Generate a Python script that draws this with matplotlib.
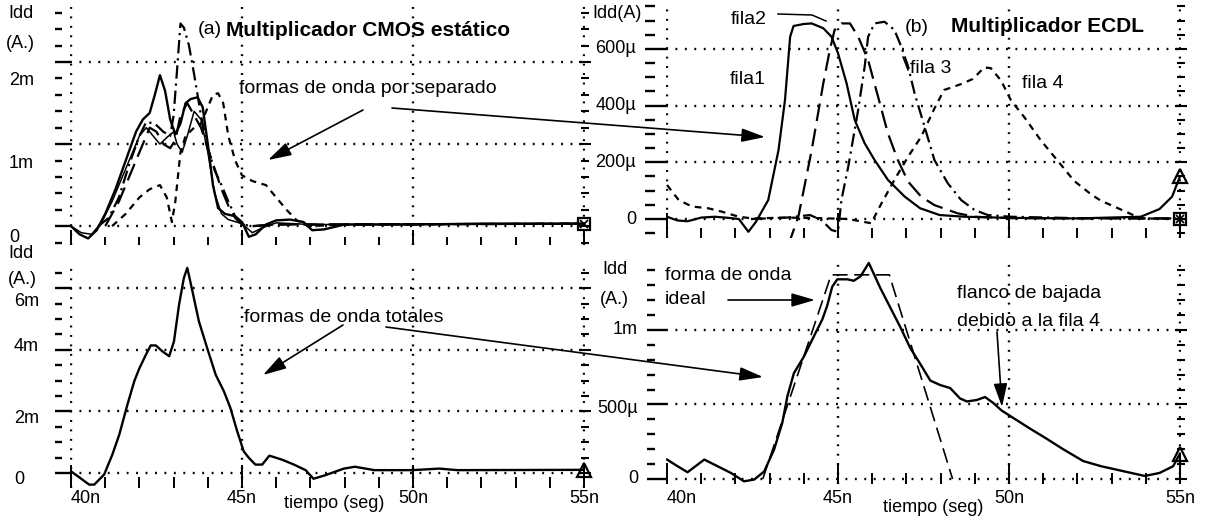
import matplotlib.pyplot as plt
from matplotlib.ticker import MultipleLocator, FixedLocator
from matplotlib.patches import FancyArrowPatch
from matplotlib.lines import Line2D

W, H = 1210, 523
plt.rcParams['font.family'] = ['Liberation Sans', 'DejaVu Sans']

# ---- (a) CMOS, separate waveforms (mA vs ns)
a_s1_t = [40.0, 40.25, 40.5, 40.75, 41.0, 41.3, 41.6, 41.9, 42.1, 42.3, 42.45, 42.6, 42.75, 42.9, 43.05,
          43.2, 43.35, 43.5, 43.7, 43.85, 44.0, 44.15, 44.3, 44.5, 44.8, 45.0, 45.2, 45.4, 45.7, 46.0,
          46.4, 46.8, 47.05, 47.4, 48.0, 49.0, 50.0, 52.0, 55.0]
a_s1_v = [0.0, -0.1, -0.15, -0.05, 0.15, 0.45, 0.8, 1.15, 1.3, 1.38, 1.6, 1.84, 1.65, 1.3, 1.12,
          1.25, 1.5, 1.55, 1.57, 1.45, 1.0, 0.5, 0.22, 0.15, 0.12, 0.05, -0.13, -0.1, 0.02, 0.07,
          0.08, 0.05, -0.05, -0.04, 0.02, 0.02, 0.02, 0.03, 0.03]
a_s2_t = [40.0, 40.3, 40.6, 40.9, 41.2, 41.5, 41.8, 42.0, 42.2, 42.4, 42.6, 42.8, 43.0, 43.1, 43.25,
          43.4, 43.6, 43.8, 44.0, 44.2, 44.4, 44.6, 45.0, 45.3, 45.6, 46.0, 47.0, 48.0, 55.0]
a_s2_v = [0.0, -0.08, -0.1, 0.05, 0.3, 0.6, 0.9, 1.1, 1.2, 1.1, 1.0, 1.08, 1.15, 1.0, 0.9,
          1.1, 1.4, 1.3, 0.9, 0.4, 0.15, 0.08, 0.03, -0.08, -0.02, 0.04, 0.02, 0.02, 0.03]
a_dd_t = [40.8, 41.1, 41.4, 41.7, 42.0, 42.2, 42.45, 42.7, 42.9, 43.0, 43.1, 43.2, 43.3, 43.45, 43.6,
          43.8, 44.0, 44.2, 44.4, 44.6, 44.8, 45.0, 45.3, 46.0, 48.0, 55.0]
a_dd_v = [0.0, 0.1, 0.35, 0.75, 1.1, 1.27, 1.25, 1.15, 1.1, 1.35, 1.9, 2.47, 2.42, 2.2, 1.85,
          1.35, 0.95, 0.68, 0.5, 0.3, 0.12, 0.02, 0.0, 0.02, 0.02, 0.03]
a_ld_t = [41.0, 41.4, 41.8, 42.1, 42.3, 42.5, 42.7, 42.9, 43.05, 43.2, 43.4, 43.6, 43.8, 44.0, 44.2,
          44.4, 44.6, 44.8, 45.0, 45.3, 46.0, 48.0, 55.0]
a_ld_v = [0.0, 0.3, 0.7, 1.0, 1.2, 1.15, 1.0, 0.95, 1.05, 1.35, 1.5, 1.35, 1.2, 0.95, 0.7,
          0.45, 0.25, 0.1, 0.02, 0.0, 0.02, 0.02, 0.03]
a_sd_t = [41.2, 41.6, 42.0, 42.3, 42.6, 42.8, 42.95, 43.05, 43.2, 43.35, 43.6, 43.8, 44.0, 44.15, 44.3,
          44.45, 44.6, 44.8, 45.0, 45.3, 45.7, 46.0, 46.3, 46.6, 47.0, 48.0, 55.0]
a_sd_v = [0.0, 0.15, 0.35, 0.45, 0.5, 0.35, 0.05, 0.3, 0.9, 1.1, 1.2, 1.25, 1.45, 1.6, 1.62,
          1.5, 1.1, 0.8, 0.62, 0.55, 0.5, 0.35, 0.2, 0.07, 0.0, 0.02, 0.03]

# ---- (b) ECDL, one waveform per row (uA vs ns)
f1_t = [40.0, 40.3, 40.6, 41.0, 41.4, 41.8, 42.1, 42.38, 42.6, 42.96, 43.26, 43.45, 43.6, 43.7, 44.0,
        44.23, 44.57, 44.81, 45.0, 45.25, 45.49, 45.78, 46.07, 46.46, 46.95, 47.4, 47.97, 48.7, 50.0,
        52.0, 53.85, 54.4, 54.77, 55.0]
f1_v = [8, -5, -8, 5, 8, 4, 0, -45, -10, 67, 243, 420, 643, 681, 688,
        690, 673, 643, 585, 479, 349, 267, 208, 138, 79, 38, 14, 8, 4,
        2, 8, 35, 79, 150]
f2_t = [43.5, 43.6, 43.84, 44.23, 44.57, 44.76, 44.9, 45.1, 45.35, 45.59, 45.88, 46.17, 46.46, 46.75,
        47.05, 47.43, 47.82, 48.5, 49.0, 50.0, 55.0]
f2_v = [-90, -74, 8, 243, 479, 596, 667, 690, 690, 643, 561, 432, 302, 208,
        132, 79, 49, 20, 8, 3, 2]
f3_t = [42.5, 43.5, 44.18, 44.52, 44.81, 45.0, 45.1, 45.3, 45.59, 45.78, 45.88, 46.07, 46.36, 46.65,
        46.85, 47.05, 47.24, 47.53, 47.82, 48.21, 48.6, 48.99, 49.38, 50.06, 52.0, 55.0]
f3_v = [0, 5, 14, -4, -39, -45, 67, 185, 385, 538, 643, 690, 696, 667,
        608, 538, 443, 326, 208, 126, 67, 32, 14, 8, 3, 2]
f4_t = [40.0, 40.34, 40.73, 41.2, 41.6, 42.1, 42.5, 43.5, 44.5, 45.3, 45.97, 46.27, 46.65, 47.05, 47.43,
        47.82, 48.1, 48.6, 48.94, 49.28, 49.47, 49.77, 50.06, 50.45, 50.94, 51.42, 51.9, 52.39, 52.68,
        53.3, 53.85, 55.0]
f4_v = [120, 67, 44, 38, 26, 8, 2, 5, 3, 0, -15, 55, 138, 220, 290,
        390, 455, 476, 494, 535, 532, 488, 418, 359, 276, 206, 135, 88, 65,
        32, 2, 0]

# ---- totals (mA vs ns)
ta_t = [40.0, 40.25, 40.53, 40.68, 40.97, 41.21, 41.41, 41.65, 41.85, 42.0, 42.19, 42.33, 42.48, 42.67,
        42.87, 43.01, 43.16, 43.3, 43.4, 43.55, 43.74, 43.98, 44.23, 44.47, 44.66, 44.86, 45.05, 45.2,
        45.39, 45.59, 45.8, 46.17, 46.5, 46.86, 47.09, 47.42, 47.98, 48.3, 48.87, 49.99, 50.77, 51.3, 55.0]
ta_v = [0.05, -0.15, -0.38, -0.38, -0.05, 0.6, 1.24, 2.22, 2.98, 3.4, 3.84, 4.14, 4.14, 3.95,
        3.79, 4.27, 5.47, 6.33, 6.66, 5.9, 4.92, 4.06, 3.19, 2.65, 2.11, 1.35, 0.7, 0.49,
        0.27, 0.27, 0.56, 0.43, 0.28, 0.09, -0.19, -0.08, 0.14, 0.2, 0.09, 0.09, 0.14, 0.09, 0.1]
tb_t = [40.0, 40.31, 40.6, 41.09, 41.48, 41.87, 42.25, 42.55, 42.84, 43.13, 43.37, 43.52, 43.71, 44.0,
        44.3, 44.54, 44.68, 44.83, 44.98, 45.27, 45.46, 45.66, 45.9, 46.24, 46.53, 46.82, 47.11, 47.41,
        47.7, 47.99, 48.28, 48.57, 48.77, 49.06, 49.3, 49.54, 49.78, 50.12, 50.6, 51.1, 51.58, 52.17,
        52.7, 53.97, 54.4, 54.8, 55.0]
tb_v = [0.13, 0.085, 0.045, 0.13, 0.085, 0.04, -0.016, -0.004, 0.05, 0.197, 0.376, 0.555, 0.71, 0.82,
        0.96, 1.07, 1.16, 1.29, 1.34, 1.34, 1.33, 1.36, 1.45, 1.28, 1.15, 1.02, 0.88, 0.77,
        0.66, 0.63, 0.61, 0.54, 0.52, 0.53, 0.55, 0.51, 0.46, 0.41, 0.34, 0.27, 0.2, 0.12,
        0.085, 0.02, 0.04, 0.085, 0.17]
ideal_t = [42.8, 44.8, 46.5, 48.35]
ideal_v = [0.0, 1.37, 1.37, 0.0]

x_labels = ['40n', '45n', '50n', '55n']

fig = plt.figure(figsize=(W / 100, H / 100), dpi=100)


def px(x, y):
    return x / W, 1 - y / H


def make_ax(x0, x1, ytop, ybot):
    return fig.add_axes([x0 / W, 1 - ybot / H, (x1 - x0) / W, (ybot - ytop) / H])


def style(ax, ylim, ymaj, ymin, out, ylens, xlens):
    ax.set_xlim(39.97, 55.03)
    ax.set_ylim(*ylim)
    for s in ax.spines.values():
        s.set_visible(False)
    ax.spines['left'].set_position(('outward', out * 0.72))
    ax.xaxis.set_major_locator(FixedLocator([40, 45, 50, 55]))
    ax.xaxis.set_minor_locator(MultipleLocator(1))
    ax.yaxis.set_major_locator(MultipleLocator(ymaj))
    ax.yaxis.set_minor_locator(MultipleLocator(ymin))
    ax.tick_params(axis='y', which='both', direction='in', width=1.7, labelleft=False)
    ax.tick_params(axis='y', which='major', length=ylens[1] * 0.72)
    ax.tick_params(axis='y', which='minor', length=ylens[0] * 0.72)
    ax.tick_params(axis='x', which='both', direction='in', width=1.4, labelbottom=False)
    ax.tick_params(axis='x', which='major', length=xlens[1] * 0.72)
    ax.tick_params(axis='x', which='minor', length=xlens[0] * 0.72)
    ax.grid(True, which='major', color='k', lw=1.7, ls=(0, (0.8, 3.2)))
    ax.patch.set_alpha(0)
    r = ax.secondary_yaxis('right')
    r.spines['right'].set_visible(False)
    r.yaxis.set_major_locator(MultipleLocator(ymaj))
    r.yaxis.set_minor_locator(MultipleLocator(ymin))
    r.tick_params(which='both', direction='inout', width=1.5, labelright=False)
    r.tick_params(which='major', length=12 * 0.72)
    r.tick_params(which='minor', length=8 * 0.72)


def ylabels(ax, vals, labels, dx, dys, ha):
    for v, s, dy in zip(vals, labels, dys):
        ax.annotate(s, xy=(0, v), xycoords=('axes fraction', 'data'), xytext=(dx, dy),
                    textcoords='offset pixels', ha=ha, va='center', fontsize=13,
                    annotation_clip=False)


def arrow(tail, head):
    fig.add_artist(FancyArrowPatch(px(*tail), px(*head), transform=fig.transFigure,
                                   arrowstyle='-|>,head_length=1.1,head_width=0.32',
                                   mutation_scale=13, lw=1.2, color='k',
                                   shrinkA=0, shrinkB=0))


def fig_line(pts):
    xs = [px(x, y)[0] for x, y in pts]
    ys = [px(x, y)[1] for x, y in pts]
    fig.add_artist(Line2D(xs, ys, transform=fig.transFigure, color='k', lw=1.1))


def txt(x, y, s, ha='left', **kw):
    fig.text(*px(x, y), s, ha=ha, va='center', fontsize=kw.pop('fontsize', 14), **kw)


LD = (0, (8, 3.5))
DD = (0, (6, 2.2, 1, 2.2))
SD = (0, (3, 2.5))
lw = 1.6

# ---- top left
ax1 = make_ax(70, 585, 3, 245)
style(ax1, (-0.23, 2.72), 1, 0.2, 15, (7, 15), (8, 15))
ax1.plot(a_s1_t, a_s1_v, color='k', lw=1.7)
ax1.plot(a_s2_t, a_s2_v, color='k', lw=1.1)
ax1.plot(a_dd_t, a_dd_v, color='k', lw=lw, ls=DD)
ax1.plot(a_ld_t, a_ld_v, color='k', lw=lw, ls=LD)
ax1.plot(a_sd_t, a_sd_v, color='k', lw=lw, ls=SD)
ax1.plot(a_s1_t[-1], a_s1_v[-1], marker='s', ms=9, mfc='none', mec='k', mew=1.6, clip_on=False)
ax1.plot(a_s1_t[-1], a_s1_v[-1], marker='x', ms=6, mec='k', mew=1.3, clip_on=False)
ylabels(ax1, [0, 1, 2], ['0', '1m', '2m'], -61, [-11, -19, -18], 'left')

# ---- top right
ax2 = make_ax(666, 1181, 5, 238)
style(ax2, (-67, 755), 200, 50, 21, (10, 21), (10, 25))
ax2.plot(f1_t, f1_v, color='k', lw=lw)
ax2.plot(f2_t, f2_v, color='k', lw=lw, ls=LD)
ax2.plot(f3_t, f3_v, color='k', lw=lw, ls=DD)
ax2.plot(f4_t, f4_v, color='k', lw=lw, ls=SD)
ax2.plot(f1_t[-1], f1_v[-1], marker='^', ms=10, mfc='none', mec='k', mew=1.6, clip_on=False)
ax2.plot(f4_t[-1], f4_v[-1], marker='s', ms=9, mfc='none', mec='k', mew=1.6, clip_on=False)
ax2.plot(f4_t[-1], f4_v[-1], marker='x', ms=6, mec='k', mew=1.3, clip_on=False)
ylabels(ax2, [0, 200, 400, 600], ['0', '200µ', '400µ', '600µ'], -30, [0, 0, 0, 0], 'right')

# ---- bottom left
ax3 = make_ax(70, 585, 262, 488)
style(ax3, (-0.49, 6.85), 2, 0.5, 15, (7, 15), (11, 23))
ax3.plot(ta_t, ta_v, color='k', lw=1.7)
ax3.plot(ta_t[-1], ta_v[-1], marker='^', ms=10, mfc='none', mec='k', mew=1.6, clip_on=False)
ylabels(ax3, [0, 2, 4, 6], ['0', '2m', '4m', '6m'], -56, [-7, -7, 3, -13], 'left')

# ---- bottom right
ax4 = make_ax(666, 1181, 258, 484)
style(ax4, (-0.034, 1.483), 0.5, 0.1, 19, (8, 19), (11, 21))
ax4.xaxis.get_gridlines()[0].set_visible(False)
ax4.plot(ideal_t, ideal_v, color='k', lw=1.2, ls=(0, (9, 4)))
ax4.plot(tb_t, tb_v, color='k', lw=1.7)
ax4.vlines(tb_t[-1], 0, tb_v[-1], color='k', lw=1.5, clip_on=False)
ax4.plot(tb_t[-1], tb_v[-1], marker='^', ms=10, mfc='none', mec='k', mew=1.6, clip_on=False)
ylabels(ax4, [0, 0.5, 1.0], ['0', '500µ', '1m'], -28, [0, -4, 0], 'right')

for ax, pad in [(ax3, 1.5), (ax4, 4.5)]:
    ax.tick_params(axis='x', which='major', labelbottom=True, labelsize=13, pad=pad)
    labs = ax.set_xticklabels(x_labels)
    labs[0].set_ha('left')

# ---- texts
txt(8, 13, 'Idd', fontsize=13)
txt(6, 43, '(A.)', fontsize=13)
txt(8, 254, 'Idd', fontsize=13)
txt(8, 279, '(A.)', fontsize=13)
txt(592, 13, 'Idd(A)', fontsize=13)
txt(602, 270, 'Idd', fontsize=13)
txt(600, 300, '(A.)', fontsize=13)

txt(210, 30, '(a)', ha='center')
txt(226, 31, 'Multiplicador CMOS estático', fontweight='bold', fontsize=15)
txt(917, 27, '(b)', ha='center')
txt(951, 27, 'Multiplicador ECDL', fontweight='bold', fontsize=15)
txt(239, 88, 'formas de onda por separado')
txt(244, 317, 'formas de onda totales')
txt(749, 19, 'fila2', ha='center')
txt(748, 80, 'fila1', ha='center')
txt(931, 69, 'fila 3', ha='center')
txt(1043, 84, 'fila 4', ha='center')
txt(665, 276, 'forma de onda')
txt(665, 300, 'ideal')
txt(957, 293, 'flanco de bajada')
txt(957, 321, 'debido a la fila 4')
txt(334, 503, 'tiempo (seg)', ha='center', fontsize=13)
txt(933, 507, 'tiempo (seg)', ha='center', fontsize=13)

arrow((363, 110), (268, 160))
arrow((392, 108), (765, 137))
arrow((343, 325), (263, 375))
arrow((386, 327), (763, 377))
arrow((728, 300), (815, 300))
arrow((997, 332), (1002, 407))
fig_line([(778, 14), (812, 15), (826, 21)])
fig_line([(903, 57), (908, 70)])

fig.savefig('out.png', dpi=100)
